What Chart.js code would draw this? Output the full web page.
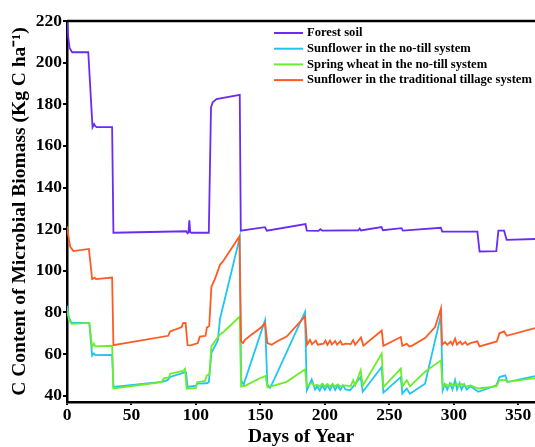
<!DOCTYPE html>
<html>
<head>
<meta charset="utf-8">
<script src="https://cdn.jsdelivr.net/npm/chart.js@4.4.1/dist/chart.umd.min.js"></script>
<style>
    html, body { margin: 0; padding: 0; background: #fff; }
    #chart { display: block; }
</style>
</head>
<body>
<canvas id="chart" width="535" height="447"></canvas>
<script>
// Microbial biomass C over the year

const seriesNames = [
    'Forest soil',
    'Sunflower in the no-till system',
    'Spring wheat in the no-till system',
    'Sunflower in the traditional tillage system'
];
const seriesColors = ['#6a2cf3', '#1ec6f2', '#6bee2a', '#ff5a22'];

const xTicks = [0, 50, 100, 150, 200, 250, 300, 350];
const yTicks = [40, 60, 80, 100, 120, 140, 160, 180, 200, 220];

const forestDays = [0, 1, 2, 4, 16.5, 19.8, 21, 22, 23, 35, 36, 92.5, 93.5, 94.2, 94.9, 95.6, 96.5, 110, 111.7, 113, 116, 134, 134.8,
    153.5, 155, 185, 186, 195, 196.5, 198, 226, 227, 228, 244, 245, 259.5, 260.5, 290, 291, 318.3, 320, 333, 334.6, 339, 341, 363];
const forestValues = [220, 212, 207, 205, 205, 169, 170.5, 169.5, 169, 169, 118.3, 119, 118, 118.5, 124.3, 118.5, 118.3, 118.3, 178.5, 181, 182.5, 184.5, 119.3,
    121, 119.3, 122.5, 119.3, 119.2, 120, 119.3, 119.5, 120.3, 119.4, 121, 119.5, 120.5, 119.3, 120.7, 118.9, 118.8, 109.3, 109.5, 119.3, 119.3, 114.9, 115.3];

const ntSunDays = [0, 1.5, 3.5, 17.3, 19.5, 20.8, 22, 35, 36, 73.5, 78, 80, 90, 92.3, 93.5, 100, 101, 108.5, 110, 112, 117, 118.7, 134, 135, 137,
    153.6, 155.4, 157.5, 161, 184.6, 186, 189.8, 192.4, 194, 196, 198, 200, 202, 204, 206, 208, 210, 212, 214, 216, 219.6, 227.8, 229.4,
    244.1, 245.4, 258.9, 260.1, 263.5, 266, 277.7, 290, 291.4, 293, 295, 297, 299, 301, 302.5, 304.5, 306, 308, 310, 313, 319,
    333, 335.5, 340, 341.6, 363];
const ntSunValues = [83.2, 77.5, 75, 75, 59.3, 60.3, 59.5, 59.6, 44.2, 46.7, 47.5, 49, 51, 51.3, 44.2, 44.8, 45.8, 46, 46.5, 60.5, 66.6, 77, 116, 47.5, 45.4,
    76.3, 45.4, 43.8, 48.2, 80.3, 42.6, 47.8, 43, 44.5, 42.5, 45, 42.8, 45, 42.8, 45.5, 42.8, 45, 42.8, 45, 43, 42.6, 49, 41.9,
    53.8, 41.5, 49, 41, 43.5, 41, 45.8, 78.5, 42.6, 45.5, 43, 46, 43, 47.5, 43, 46, 43, 45.5, 43, 44.5, 41.9,
    45, 49, 49.8, 46.6, 49.4];

const ntWheatDays = [0, 1.5, 3.5, 17.3, 19.5, 20.8, 22, 35, 36, 73.5, 75, 79, 80, 90, 91.5, 92.8, 100, 101, 107, 108.5, 110.4, 112, 114, 118, 122, 134, 135,
    138, 150, 154, 155.5, 170.4, 184.6, 186, 190, 192, 194, 196, 198, 200, 202, 204, 206, 208, 210, 212, 216, 220, 222, 223.5, 227.8, 229.4,
    244.1, 245.4, 258.9, 260.1, 263.5, 266, 277.7, 290, 291.4, 294, 296, 298, 300, 302, 304, 306, 310, 313, 319,
    333, 335.5, 340, 341.6, 363];
const ntWheatValues = [81.5, 76.5, 74.5, 75, 63.5, 65, 63.7, 64, 43.5, 46.5, 48.4, 48.8, 50.6, 51.9, 53, 43.4, 43.8, 46.5, 47.1, 49.8, 50, 63.7, 65.5, 69, 71, 78, 44.5,
    44.8, 48.5, 49.5, 44, 46.7, 52.7, 44.5, 46.2, 44.8, 45.3, 44.4, 45.8, 44.5, 45.6, 44.4, 45.6, 44.5, 45.5, 44.5, 45, 44.6, 47.5, 45, 52.3, 44.8,
    60.3, 44.2, 53, 44.5, 47.5, 44.5, 51.5, 57, 44.2, 45.5, 44.6, 46, 44.5, 46, 44.6, 45.6, 44.5, 45, 43.5,
    44.5, 47.5, 47.5, 46.7, 48.5];

const ttSunDays = [0, 1, 2.5, 5, 17, 19.5, 21.5, 22.5, 35, 36, 78.5, 80, 89, 90, 92, 93.5, 96, 101.5, 103, 107.5, 108.5, 110.3, 112, 115, 118.7, 120.8, 133.7,
    135, 136.5, 138, 142, 150, 153.6, 155.4, 158.8, 162.7, 170.4, 184.6, 186.2, 188.5, 190, 193, 194.5, 199, 200.5, 202, 204, 205.5, 208, 209.5,
    212, 213.5, 216, 220, 222, 223.5, 228, 229.9, 244.1, 245.4, 258.9, 260.1, 263.5, 265.6, 267.4, 277.7, 285.5, 290.1, 290.9, 293.2, 295,
    297.5, 299, 301, 302.5, 305, 306.5, 309, 310.5, 313, 318.3, 320, 333.4, 335.4, 339, 341.1, 363];
const ttSunValues = [121.3, 117, 111.5, 109.5, 110.5, 96, 96.7, 96, 96.8, 64.3, 68.8, 70.9, 73, 74.9, 75, 64.3, 64.2, 65.3, 68.4, 68.8, 72.8, 73.5, 92.3, 96.5, 102.9, 104.4, 116.5,
    66.1, 65.3, 66.9, 68.8, 72.5, 74.9, 65.3, 64.5, 66.1, 68.4, 78.1, 64.5, 66.8, 64.7, 66.5, 64.5, 65, 66.5, 64.5, 66.5, 64.6, 66.3, 64.5,
    66.3, 64.5, 65, 64.8, 66.7, 64.5, 68, 64, 71.3, 64, 68.2, 64, 64.9, 63.7, 64, 67.7, 73, 82, 64.5, 65.8, 64.5,
    66, 64.5, 67.5, 64.6, 66, 64.6, 65.8, 64.5, 65.3, 66.1, 63.7, 66.1, 70, 70.9, 68.8, 72.5];

const allDays = [forestDays, ntSunDays, ntWheatDays, ttSunDays];
const allValues = [forestValues, ntSunValues, ntWheatValues, ttSunValues];
// green drawn over cyan, as in the figure
const drawOrder = [0, 3, 2, 1];

const serif = '"Liberation Serif", "Times New Roman", serif';

// legend in the top right corner of the plot, plus the top frame line
const framePlugin = {
    id: 'frame',
    afterDraw(chart) {
        const ctx = chart.ctx;
        const area = chart.chartArea;
        ctx.save();
        ctx.strokeStyle = '#000';
        ctx.lineWidth = 2.5;
        ctx.beginPath();
        ctx.moveTo(area.left, area.top);
        ctx.lineTo(area.right, area.top);
        ctx.stroke();

        ctx.font = 'bold 12.6px ' + serif;
        ctx.textBaseline = 'middle';
        ctx.fillStyle = '#000';
        chart.data.datasets.forEach((ds, i) => {
            const y = 33 + i * 15.7;
            ctx.strokeStyle = ds.borderColor;
            ctx.lineWidth = 2;
            ctx.beginPath();
            ctx.moveTo(274, y);
            ctx.lineTo(303, y);
            ctx.stroke();
            ctx.fillText(ds.label, 307, y);
        });
        ctx.restore();
    }
};

const datasets = seriesNames.map((name, i) => ({
    label: name,
    data: allDays[i].map((d, j) => ({ x: d, y: allValues[i][j] })),
    borderColor: seriesColors[i],
    backgroundColor: seriesColors[i],
    borderWidth: 1.8,
    pointRadius: 0,
    tension: 0,
    fill: false,
    order: drawOrder[i]
}));

new Chart(document.getElementById('chart'), {
    type: 'line',
    data: { datasets },
    options: {
        responsive: false,
        animation: false,
        devicePixelRatio: 1,
        layout: { padding: { top: 21, right: 0, bottom: 0, left: 0 } },
        plugins: {
            legend: { display: false },
            tooltip: { enabled: false }
        },
        scales: {
            x: {
                type: 'linear',
                min: 0,
                max: 363,
                afterFit: s => { s.height = 45; },
                afterBuildTicks: s => { s.ticks = xTicks.map(v => ({ value: v })); },
                ticks: {
                    includeBounds: false,
                    padding: 0,
                    color: '#000',
                    maxRotation: 0,
                    font: { family: serif, size: 17.5, weight: 'bold' }
                },
                grid: { drawOnChartArea: false, drawTicks: true, tickLength: 3, color: '#000', lineWidth: 2 },
                border: { display: true, color: '#000', width: 2.5 },
                title: {
                    display: true,
                    text: 'Days of Year',
                    color: '#000',
                    padding: { top: 0, bottom: 0 },
                    font: { family: serif, size: 19.5, weight: 'bold', lineHeight: 1 }
                }
            },
            y: {
                min: 37,
                max: 220,
                afterFit: s => { s.width = 67; },
                afterBuildTicks: s => { s.ticks = yTicks.map(v => ({ value: v })); },
                ticks: {
                    includeBounds: false,
                    padding: 1,
                    color: '#000',
                    font: { family: serif, size: 17.5, weight: 'bold' }
                },
                grid: { drawOnChartArea: false, drawTicks: true, tickLength: 4, color: '#000', lineWidth: 2 },
                border: { display: true, color: '#000', width: 2.5 },
                title: {
                    display: true,
                    text: 'C Content of Microbial Biomass (Kg C ha⁻¹)',
                    color: '#000',
                    padding: { top: 10, bottom: 0 },
                    font: { family: serif, size: 19.5, weight: 'bold', lineHeight: 1 }
                }
            }
        }
    },
    plugins: [framePlugin]
});
</script>
</body>
</html>
